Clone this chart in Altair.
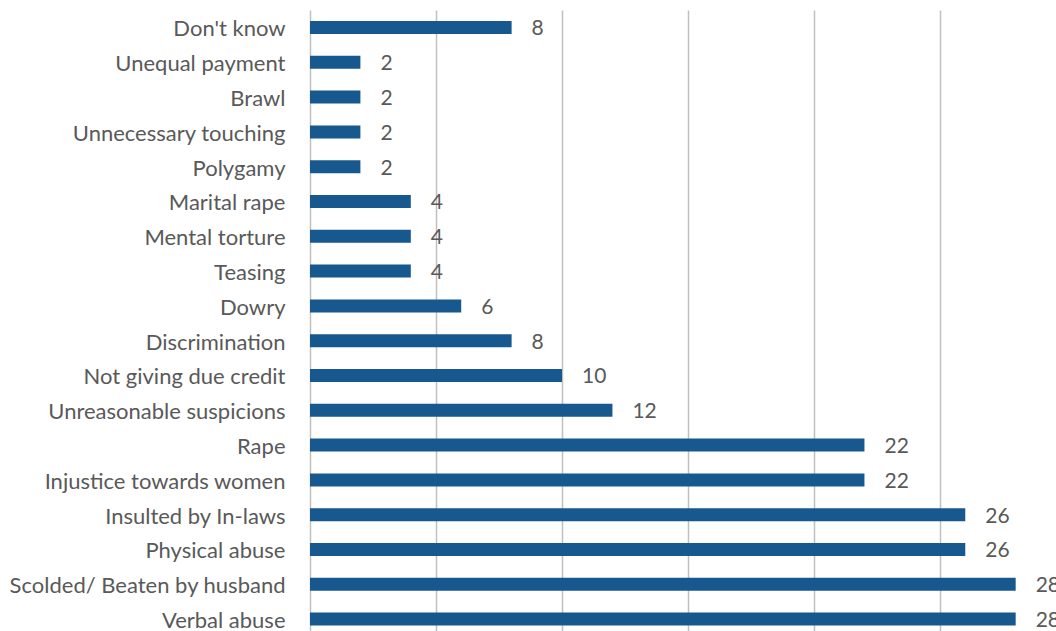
import altair as alt
import pandas as pd

categories = [
    "Don't know", "Unequal payment", "Brawl", "Unnecessary touching", "Polygamy",
    "Marital rape", "Mental torture", "Teasing", "Dowry", "Discrimination",
    "Not giving due credit", "Unreasonable suspicions", "Rape",
    "Injustice towards women", "Insulted by In-laws", "Physical abuse",
    "Scolded/ Beaten by husband", "Verbal abuse",
]
values = [8, 2, 2, 2, 2, 4, 4, 4, 6, 8, 10, 12, 22, 22, 26, 26, 28, 28]
grid_values = [0, 5, 10, 15, 20, 25]

df = pd.DataFrame({"category": categories, "value": values})

FONT = "Lato"
TEXT_COLOR = "#595959"

y_enc = alt.Y(
    "category:N",
    sort=categories,
    title=None,
    scale=alt.Scale(paddingInner=0.627, paddingOuter=0.236, align=0.67),
    axis=alt.Axis(
        ticks=False, domain=False, grid=False, labelPadding=25, labelOffset=2,
        labelFont=FONT, labelFontSize=22, labelColor=TEXT_COLOR, labelLimit=400,
    ),
)
x_enc = alt.X(
    "value:Q",
    title=None,
    scale=alt.Scale(domain=[0, 29.6], nice=False, zero=True),
    axis=alt.Axis(
        values=grid_values, labels=False, ticks=False, domain=False,
        grid=True, gridColor="#c0c0c0", gridWidth=1.5,
    ),
)

bars = alt.Chart(df).mark_bar(color="#17598e").encode(x=x_enc, y=y_enc)
labels = alt.Chart(df).mark_text(
    align="left", baseline="middle", dx=20, dy=2, font=FONT, fontSize=21, color=TEXT_COLOR
).encode(x=alt.X("value:Q"), y=alt.Y("category:N", sort=categories), text="value:Q")

chart = (
    alt.layer(bars, labels)
    .properties(
        width=746,
        height=621,
        autosize=alt.AutoSizeParams(type="none"),
        padding={"left": 310, "top": 10, "right": 0, "bottom": 0},
        background="white",
    )
    .configure_view(stroke=None)
)

chart.save("out.html", embed_options={"renderer": "svg", "actions": False})
